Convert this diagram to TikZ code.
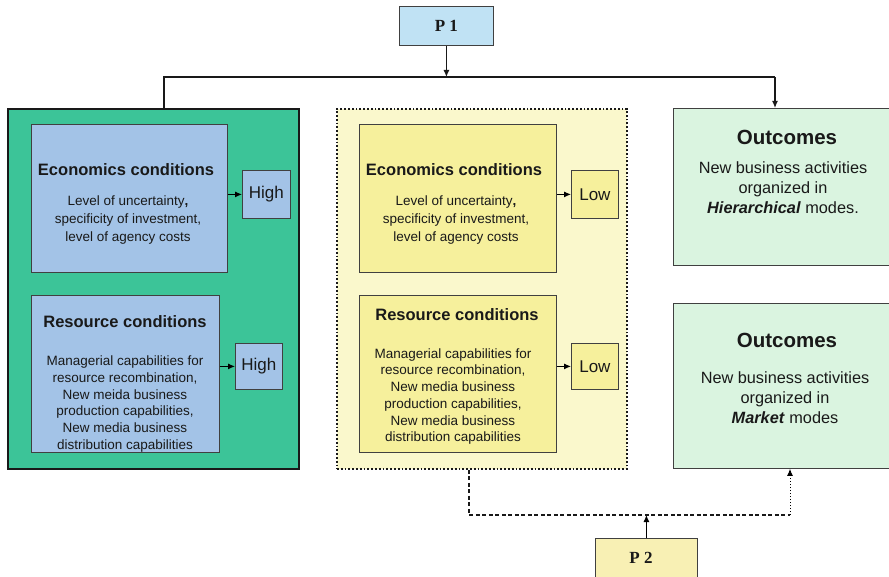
\documentclass[tikz,border=0pt]{standalone}
\usepackage{fontspec}
\setmainfont{Liberation Sans}
\newfontfamily\pfont{Liberation Serif}
\usetikzlibrary{arrows.meta}

\definecolor{greenbg}{HTML}{3CC498}
\definecolor{bluebox}{HTML}{A3C3E7}
\definecolor{ponebg}{HTML}{C0E2F4}
\definecolor{yellowbg}{HTML}{FAF8CC}
\definecolor{yellowbox}{HTML}{F6F09C}
\definecolor{outbg}{HTML}{DAF4E0}
\definecolor{ptwobg}{HTML}{F8F0B4}
\definecolor{edge}{HTML}{404040}

\tikzset{
  plainbox/.style={draw=edge, line width=0.8pt, inner sep=0pt, anchor=north west},
  bluecell/.style={plainbox, fill=bluebox},
  yellowcell/.style={plainbox, fill=yellowbox},
  outcell/.style={plainbox, fill=outbg},
  title/.style={font=\fontsize{16.5}{19}\selectfont\bfseries, text=black!90},
  body/.style={font=\fontsize{13.5}{16.7}\selectfont, align=center, text=black!90},
  econbody/.style={body, font=\fontsize{13.5}{18}\selectfont},
  level/.style={font=\fontsize{17}{20}\selectfont, text=black!90},
  outtitle/.style={font=\fontsize{20.5}{24}\selectfont\bfseries, text=black!90},
  outbody/.style={font=\fontsize{16.3}{20}\selectfont, align=center, text=black!90},
  ptext/.style={font=\pfont\fontsize{17}{19}\selectfont\bfseries, text=black!90},
  link/.style={line width=1.2pt, draw=black!90},
  tip/.style={-{Latex[length=7pt,width=6pt]}},
}

\begin{document}
\begin{tikzpicture}[x=1pt,y=-1pt]
\useasboundingbox (0,0) rectangle (889,577);

% proposition boxes
\node[plainbox, fill=ponebg, minimum width=94pt, minimum height=39pt] (p1) at (399,6) {};
\node[ptext] (p1t) at (p1.center) {P 1};
\node[plainbox, fill=ptwobg, minimum width=102pt, minimum height=45pt] (p2) at (595,538) {};
\node[ptext] (p2t) at (641,558) {P 2};

% left panel: high conditions
\node[plainbox, draw=black!90, line width=1.6pt, fill=greenbg, minimum width=291pt, minimum height=360pt] (green) at (7,108) {};
\node[bluecell, minimum width=196pt, minimum height=148pt] (econA) at (31,124) {};
\node[title] (econAt) at (126,170) {Economics conditions};
\node[econbody] (econAb) at (128,220.5) {Level of uncertainty\textbf{,}\\specificity of investment,\\level of agency costs};
\node[bluecell, minimum width=48pt, minimum height=48pt] (highA) at (242,170) {};
\node[level] (highAt) at (highA.center) {High};
\draw[line width=1pt, tip] (econA.east |- highA.west) -- (highA.west);

\node[bluecell, minimum width=188pt, minimum height=157pt] (resA) at (31,295) {};
\node[title] (resAt) at (125,322) {Resource conditions};
\node[body] (resAb) at (125,404) {Managerial capabilities for\\resource recombination,\\New meida business\\production capabilities,\\New media business\\distribution capabilities};
\node[bluecell, minimum width=47pt, minimum height=46pt] (highB) at (235,343) {};
\node[level] (highBt) at (highB.center) {High};
\draw[line width=1pt, tip] (resA.east |- highB.west) -- (highB.west);

% middle panel: low conditions
\node[plainbox, draw=black!90, line width=1.8pt, dotted, fill=yellowbg, minimum width=290pt, minimum height=360pt] (yel) at (336,108) {};
\node[yellowcell, minimum width=197pt, minimum height=148pt] (econB) at (359,124) {};
\node[title] (econBt) at (454,170) {Economics conditions};
\node[econbody] (econBb) at (456,220.5) {Level of uncertainty\textbf{,}\\specificity of investment,\\level of agency costs};
\node[yellowcell, minimum width=47pt, minimum height=48pt] (lowA) at (571,170) {};
\node[level] (lowAt) at (lowA.center) {Low};
\draw[line width=1pt, tip] (econB.east |- lowA.west) -- (lowA.west);

\node[yellowcell, minimum width=197pt, minimum height=157pt] (resB) at (359,295) {};
\node[title] (resBt) at (457,315) {Resource conditions};
\node[body] (resBb) at (453,396.5) {Managerial capabilities for\\resource recombination,\\New media business\\production capabilities,\\New media business\\distribution capabilities};
\node[yellowcell, minimum width=47pt, minimum height=46pt] (lowB) at (571,343) {};
\node[level] (lowBt) at (lowB.center) {Low};
\draw[line width=1pt, tip] (resB.east |- lowB.west) -- (lowB.west);

% outcome boxes
\node[outcell, minimum width=222pt, minimum height=157pt] (outA) at (673,108) {};
\node[outtitle] (outAt) at (787,137) {Outcomes};
\node[outbody] (outAb) at (783,187.5) {New business activities\\organized in\\\textbf{\itshape Hierarchical} modes.};
\node[outcell, minimum width=222pt, minimum height=165pt] (outB) at (673,303) {};
\node[outtitle] (outBt) at (787,340) {Outcomes};
\node[outbody] (outBb) at (785,397.5) {New business activities\\organized in\\\textbf{\itshape Market} modes};

% P1 branches
\coordinate (jl) at (164,77);
\coordinate (jr) at (775,77);
\draw[link, tip] (p1.south) -- (p1.south |- jl);
\draw[link] (jl |- green.north) -- (jl) -- (jr);
\draw[link, tip] (jr) -- (jr |- outA.north);

% P2 branches
\coordinate (bl) at (469,515);
\coordinate (br) at (790,515);
\draw[link, dashed, dash pattern=on 4pt off 2.5pt] (bl |- yel.south) -- (bl) -- (br);
\draw[line width=1pt, dotted, tip] (br) -- (br |- outB.south);
\draw[line width=1pt, tip] (p2.north) -- (p2.north |- bl);
\end{tikzpicture}
\end{document}
